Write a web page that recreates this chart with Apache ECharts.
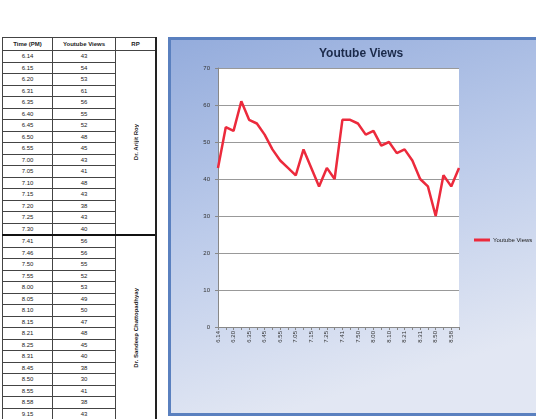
<!DOCTYPE html>
<html>
<head>
<meta charset="utf-8">
<script src="https://cdn.jsdelivr.net/npm/echarts@6/dist/echarts.min.js"></script>
<style>
  body { margin: 0; width: 536px; height: 419px; overflow: hidden; background: #fff; font-family: "Liberation Sans", Arial, sans-serif; }
  #tbl { position: absolute; left: 2px; top: 37px; border-collapse: collapse; font-size: 6px; color: #222; }
  #tbl td, #tbl th { border: 1px solid #444; padding: 0; height: 10.5px; text-align: center; line-height: 10px; }
  #tbl th { height: 12px; font-weight: bold; }
  #tbl .c1 { width: 49px; }
  #tbl .c2 { width: 62px; }
  #tbl .c3 { width: 39px; border-right: 2px solid #222; }
  #tbl tr.split td { border-top: 2px solid #111; }
  .rp { writing-mode: vertical-rl; transform: rotate(180deg); font-weight: bold; margin: 0 auto; }
  #chart { position: absolute; left: 168px; top: 37px; width: 365px; height: 373px; border: 3px solid #5a80bf; }
</style>
</head>
<body>
<table id="tbl"></table>
<div id="chart"></div>
<script>
  // 表格和折线图共用的数据
  let times = ['6.14', '6.15', '6.20', '6.31', '6.35', '6.40', '6.45', '6.50', '6.55', '7.00', '7.05', '7.10', '7.15', '7.20', '7.25', '7.30',
               '7.41', '7.46', '7.50', '7.55', '8.00', '8.05', '8.10', '8.15', '8.21', '8.25', '8.31', '8.45', '8.50', '8.55', '8.58', '9.15']
  let views = [43, 54, 53, 61, 56, 55, 52, 48, 45, 43, 41, 48, 43, 38, 43, 40,
               56, 56, 55, 52, 53, 49, 50, 47, 48, 45, 40, 38, 30, 41, 38, 43]
  let speakers = ['Dr. Arijit Roy', 'Dr. Sandeep Chattopadhyay']
  let speakerRows = [16, 16]
  let headers = ['Time (PM)', 'Youtube Views', 'RP']
  let yTicks = [0, 10, 20, 30, 40, 50, 60, 70]

  // 左边的表格
  let html = '<tr><th class="c1">' + headers[0] + '</th><th class="c2">' + headers[1] + '</th><th class="c3">' + headers[2] + '</th></tr>'
  let row = 0
  speakers.forEach((name, k) => {
    for (let j = 0; j < speakerRows[k]; j++) {
      html += '<tr' + (j === 0 && k > 0 ? ' class="split"' : '') + '><td class="c1">' + times[row] + '</td><td class="c2">' + views[row] + '</td>'
      if (j === 0) {
        html += '<td class="c3" rowspan="' + speakerRows[k] + '"><div class="rp">' + name + '</div></td>'
      }
      html += '</tr>'
      row++
    }
  })
  document.getElementById('tbl').innerHTML = html

  // 右边的折线图
  let myChart = echarts.init(document.getElementById('chart'))
  let option = {
    animation: false,
    backgroundColor: new echarts.graphic.LinearGradient(0, 0, 0.3, 1, [
      { offset: 0, color: '#94acdc' },
      { offset: 0.5, color: '#bccbea' },
      { offset: 1, color: '#e2e7f3' }
    ]),
    title: {
      text: 'Youtube Views',
      left: 143,
      top: 3,
      textStyle: { fontSize: 12, fontWeight: 'bold', color: '#1b2a4a', fontFamily: 'Liberation Sans' }
    },
    legend: {
      left: 298,
      top: 192,
      itemWidth: 16,
      itemHeight: 3,
      itemGap: 2,
      icon: 'rect',
      textStyle: { fontSize: 6, color: '#222', padding: [0, 0, 0, -2] },
      data: ['Youtube Views']
    },
    grid: {
      left: 47,
      top: 28,
      width: 241,
      height: 259,
      show: true,
      backgroundColor: '#fff',
      borderWidth: 0
    },
    xAxis: {
      type: 'category',
      boundaryGap: false,
      data: times,
      axisLine: { lineStyle: { color: '#888' } },
      axisTick: { interval: 0, length: 3, lineStyle: { color: '#888' } },
      axisLabel: { interval: 1, rotate: 90, fontSize: 6, color: '#333', margin: 4 }
    },
    yAxis: {
      type: 'value',
      min: yTicks[0],
      max: yTicks[yTicks.length - 1],
      interval: 10,
      axisLine: { show: true, lineStyle: { color: '#888' } },
      axisTick: { show: true, length: 3, lineStyle: { color: '#888' } },
      axisLabel: { fontSize: 6, color: '#333', margin: 8 },
      splitLine: { lineStyle: { color: '#999', width: 1 } }
    },
    series: [{
      name: 'Youtube Views',
      type: 'line',
      data: views,
      showSymbol: false,
      color: '#ec2a3c',
      lineStyle: { width: 2.5, color: '#ec2a3c' }
    }]
  }
  myChart.setOption(option)
</script>
</body>
</html>
